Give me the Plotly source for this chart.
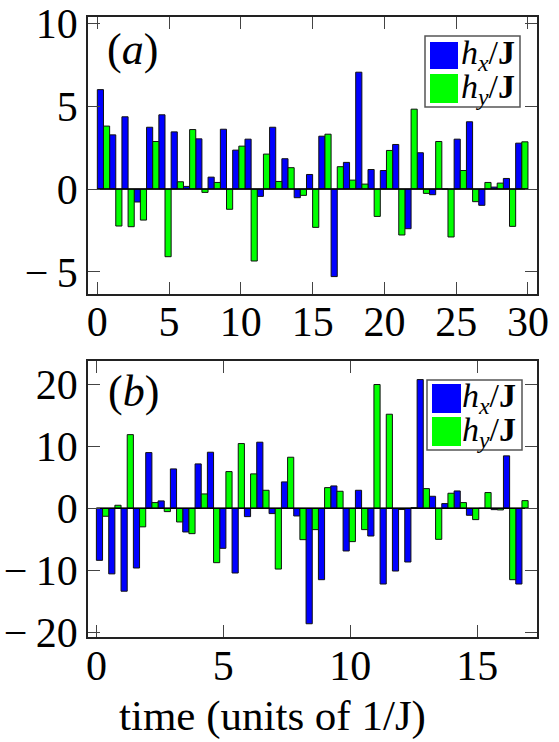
import plotly.graph_objects as go

# ---- panel (a): time grid (units of 1/J) and random field components ----
t_a = [0.0, 0.857, 1.714, 2.571, 3.429, 4.286, 5.143, 6.0, 6.857, 7.714,
       8.571, 9.429, 10.286, 11.143, 12.0, 12.857, 13.714, 14.571, 15.429, 16.286,
       17.143, 18.0, 18.857, 19.714, 20.571, 21.429, 22.286, 23.143, 24.0, 24.857,
       25.714, 26.571, 27.429, 28.286, 29.143]
hx_a = [6.0, 3.27, 4.36, -0.78, 3.73, 4.48, 3.45, 0.16, 3.03, 0.72,
        3.61, 2.35, 3.01, -0.44, 3.73, 1.83, -0.52, 0.88, 3.19, -5.28,
        1.61, 7.05, 1.18, 1.12, 2.69, -2.39, 2.19, -0.34, 0.0, 3.01,
        4.06, -0.98, 0.12, 0.64, 2.77]
hy_a = [3.8, -2.23, -2.27, -1.87, 2.87, -4.08, 0.44, 3.59, -0.2, 0.4,
        -1.22, 2.59, -4.34, 2.11, 0.46, 1.29, -0.38, -2.31, 3.31, 1.35,
        0.54, 0.30, -1.65, 2.33, -2.77, 4.82, -0.26, 2.87, -2.89, 1.12,
        -0.76, 0.40, 0.36, -2.25, 2.85]

# ---- panel (b) ----
t_b = [0.0, 0.486, 0.971, 1.457, 1.943, 2.429, 2.914, 3.4, 3.886, 4.371,
       4.857, 5.343, 5.829, 6.314, 6.8, 7.286, 7.771, 8.257, 8.743, 9.229,
       9.714, 10.2, 10.686, 11.171, 11.657, 12.143, 12.629, 13.114, 13.6, 14.086,
       14.571, 15.057, 15.543, 16.029, 16.514]
hx_b = [-8.41, -10.6, -13.4, -9.65, 9.0, 1.19, 6.36, -3.83, 7.17, 9.06,
        -6.47, -10.46, -1.35, 10.68, -0.86, 4.26, -1.24, -18.66, -11.54, 3.61,
        -6.9, 2.91, -4.48, -12.24, -10.14, -8.68, 20.8, 1.94, 0.76, 2.8,
        -1.13, 0.0, -0.22, 8.47, -12.24]
hy_b = [-1.29, 0.49, 11.9, -3.0, 0.92, -0.54, -2.21, -4.1, 2.32, -8.79,
        5.93, 10.46, 5.56, 2.91, -9.82, 8.25, -5.07, -3.45, 3.34, 2.75,
        -5.39, -3.45, 20.0, 15.2, -0.2, 0.1, 3.18, -5.02, 2.43, 0.92,
        -1.83, 2.54, -0.27, -11.54, 1.24]

xticks_a = [0, 5, 10, 15, 20, 25, 30]
yticks_a = [-5, 0, 5, 10]
yticklabels_a = ["\u2212\u20095", "0", "5", "10"]
xticks_b = [0, 5, 10, 15]
yticks_b = [-20, -10, 0, 10, 20]
yticklabels_b = ["\u2212\u200920", "\u2212\u200910", "0", "10", "20"]

BLUE = "#0000ff"
GREEN = "#00ff00"
FONT = "Times New Roman, Liberation Serif, Times, serif"
W, H = 559, 742


def px(x):
    return x / W


def py(y):
    return 1 - y / H


fig = go.Figure()


def add_panel(t, hx, hy, xa, ya, t_end):
    half = (t[1] - t[0]) / 2
    edge = dict(color="#111111", width=1)
    fig.add_trace(go.Bar(x=t, y=hx, width=half, offset=0, name="h_x/J",
                         marker=dict(color=BLUE, line=edge),
                         xaxis=xa, yaxis=ya, showlegend=False))
    fig.add_trace(go.Bar(x=t, y=hy, width=half, offset=half, name="h_y/J",
                         marker=dict(color=GREEN, line=edge),
                         xaxis=xa, yaxis=ya, showlegend=False))
    # baseline from the first to the last time step
    fig.add_trace(go.Scatter(x=[t[0], t_end], y=[0, 0], mode="lines",
                             line=dict(color="black", width=1.5),
                             xaxis=xa, yaxis=ya, showlegend=False,
                             hoverinfo="skip"))


add_panel(t_a, hx_a, hy_a, "x", "y", 30)
add_panel(t_b, hx_b, hy_b, "x2", "y2", 17)

axis_common = dict(
    showline=True, linecolor="#222222", linewidth=1.5, mirror="ticks",
    ticks="inside", ticklen=12, tickwidth=1, tickcolor="#444444",
    showgrid=False, zeroline=False, automargin=False,
    tickfont=dict(family=FONT, size=42, color="black"),
)

fig.update_layout(
    width=W, height=H,
    margin=dict(l=0, r=0, t=0, b=0),
    paper_bgcolor="white", plot_bgcolor="white",
    barmode="overlay",
    font=dict(family=FONT, color="black"),
    xaxis=dict(domain=[px(88), px(537)], anchor="y", range=[-0.65, 30.63],
               tickvals=xticks_a, ticklabelstandoff=-10, **axis_common),
    yaxis=dict(domain=[py(294), py(17)], anchor="x", range=[-6.33, 10.38],
               tickvals=yticks_a, ticktext=yticklabels_a, **axis_common),
    xaxis2=dict(domain=[px(88), px(537)], anchor="y2", range=[-0.33, 17.35],
                tickvals=xticks_b, ticklabelstandoff=-9, **axis_common),
    yaxis2=dict(domain=[py(637), py(361)], anchor="x2", range=[-20.8, 23.8],
                tickvals=yticks_b, ticktext=yticklabels_b, **axis_common),
)

shapes = []
annotations = []


def legend_box(x0, y0, x1, y1, sw_x0, sw_x1, rows, text_x):
    shapes.append(dict(type="rect", xref="paper", yref="paper",
                       x0=px(x0), x1=px(x1), y0=py(y1), y1=py(y0),
                       line=dict(color="#555555", width=1.5),
                       fillcolor="white", layer="above"))
    labels = ["<i>h</i><sub><i>x</i></sub>/<b>J</b>",
              "<i>h</i><sub><i>y</i></sub>/<b>J</b>"]
    for (r0, r1), color, lab in zip(rows, [BLUE, GREEN], labels):
        shapes.append(dict(type="rect", xref="paper", yref="paper",
                           x0=px(sw_x0), x1=px(sw_x1), y0=py(r1), y1=py(r0),
                           line=dict(width=0), fillcolor=color, layer="above"))
        annotations.append(dict(xref="paper", yref="paper", x=px(text_x),
                                y=py((r0 + r1) / 2), xanchor="left",
                                yanchor="middle", showarrow=False, text=lab,
                                font=dict(family=FONT, size=34, color="black")))


legend_box(425, 36, 520, 107, 430, 458, [(42, 69), (74, 103)], 459)
legend_box(427, 380, 522, 450, 432, 461, [(384, 413), (417, 446)], 460)

# panel letters
annotations.append(dict(xref="paper", yref="paper", x=px(105), y=py(50),
                        xanchor="left", yanchor="middle", showarrow=False,
                        text="(<i>a</i>)",
                        font=dict(family=FONT, size=44, color="black")))
annotations.append(dict(xref="paper", yref="paper", x=px(106), y=py(391),
                        xanchor="left", yanchor="middle", showarrow=False,
                        text="(<i>b</i>)",
                        font=dict(family=FONT, size=44, color="black")))

# common x-axis title
annotations.append(dict(xref="paper", yref="paper", x=px(272), y=py(716),
                        xanchor="center", yanchor="middle", showarrow=False,
                        text="time (units of 1/J)",
                        font=dict(family=FONT, size=43, color="black")))

fig.update_layout(shapes=shapes, annotations=annotations)

fig.write_html("out.html")
